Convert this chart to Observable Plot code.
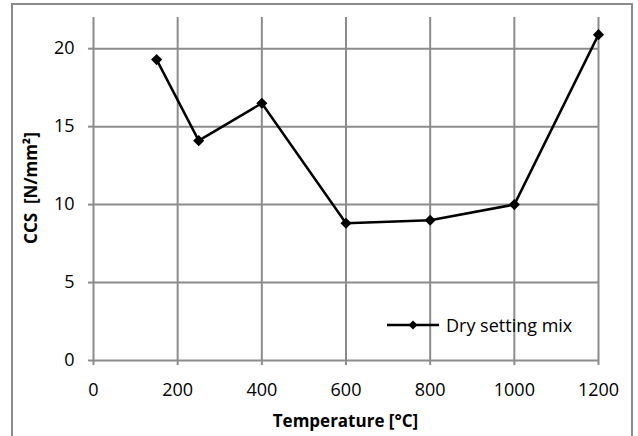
<!DOCTYPE html>
<html>
<head>
<meta charset="utf-8">
<script src="https://cdn.jsdelivr.net/npm/d3@7"></script>
<script src="https://cdn.jsdelivr.net/npm/@observablehq/plot@0.6"></script>
<style>
  html, body { margin: 0; padding: 0; background: #fff; }
  #wrap { position: relative; width: 638px; height: 436px; overflow: hidden; font-family: "Open Sans", Lato, sans-serif; }
  #border { position: absolute; left: 11px; top: 3px; width: 622px; height: 460px; border: 2px solid #8c8c8c; box-sizing: border-box; }
  #xtitle { position: absolute; left: 93px; width: 505px; top: 409px; line-height: 24px; text-align: center; font-weight: bold; font-size: 17px; color: #000; }
  #ytitle { position: absolute; left: 31px; top: 188px; transform: translate(-50%, -50%) rotate(-90deg); white-space: nowrap; font-weight: bold; font-size: 17px; line-height: 24px; color: #000; }
  #legend { position: absolute; left: 386px; top: 312px; line-height: 26px; display: flex; align-items: center; font-size: 18px; color: #000; }
  #legend svg { margin-right: 6px; }
  #chart svg [aria-label$="tick label"] { font-size: 18px; }
</style>
</head>
<body>
<div id="wrap">
  <div id="chart"></div>
  <div id="border"></div>
  <div id="xtitle">Temperature [°C]</div>
  <div id="ytitle">CCS&nbsp; [N/mm²]</div>
  <div id="legend"><svg width="54" height="12"><line x1="1" y1="6" x2="53" y2="6" stroke="#000" stroke-width="2.5"/><path d="M27 1.5 L31.5 6 L27 10.5 L22.5 6 Z" fill="#000"/></svg><span>Dry setting mix</span></div>
</div>
<script>
const seriesName = "Dry setting mix";
const temperatures = [150, 250, 400, 600, 800, 1000, 1200];
const ccsValues = [19.3, 14.1, 16.5, 8.8, 9.0, 10.0, 20.9];
const xTicks = [0, 200, 400, 600, 800, 1000, 1200];
const yTicks = [0, 5, 10, 15, 20];

const data = temperatures.map((t, i) => ({ t, v: ccsValues[i], series: seriesName }));

const chart = Plot.plot({
  width: 638,
  height: 436,
  marginLeft: 93,
  marginRight: 40,
  marginTop: 17,
  marginBottom: 76,
  style: { fontFamily: "'Open Sans', Lato, sans-serif", fontSize: "18px", color: "#000", background: "transparent" },
  x: { domain: [0, 1200], ticks: xTicks },
  y: { domain: [0, 22], ticks: yTicks },
  marks: [
    Plot.gridX(xTicks, { stroke: "#8c8c8c", strokeOpacity: 1, strokeWidth: 2 }),
    Plot.gridY(yTicks, { stroke: "#8c8c8c", strokeOpacity: 1, strokeWidth: 2 }),
    Plot.axisX(xTicks, { tickSize: 5, tickPadding: 18, stroke: "#8c8c8c", strokeWidth: 2, label: null, fill: "#000", fontSize: 18, tickFormat: d => String(d) }),
    Plot.axisY(yTicks, { tickSize: 5, tickPadding: 14, stroke: "#8c8c8c", strokeWidth: 2, label: null, fill: "#000", fontSize: 18, tickFormat: d => String(d) }),
    Plot.line(data, { x: "t", y: "v", stroke: "#000", strokeWidth: 2.5 }),
    Plot.dot(data, { x: "t", y: "v", symbol: "diamond2", r: 5, fill: "#000", stroke: "none" })
  ]
});
document.getElementById("chart").appendChild(chart);
</script>
</body>
</html>
